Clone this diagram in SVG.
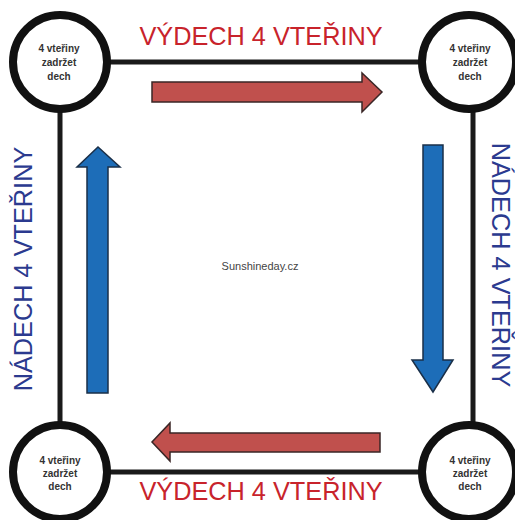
<svg xmlns="http://www.w3.org/2000/svg" width="515" height="520" viewBox="0 0 515 520">
<style>
.edge{stroke:#1a1a1a;stroke-width:5;fill:none}
.ring{fill:#fff;stroke:#111;stroke-width:8}
.ct{font-family:"Liberation Sans",Arial,sans-serif;font-size:10px;font-weight:bold;fill:#333;text-anchor:middle}
.red{font-family:"Liberation Sans",Arial,sans-serif;font-size:25.3px;fill:#c8232b;text-anchor:middle}
.blue{font-family:"Liberation Sans",Arial,sans-serif;font-size:25.3px;fill:#2b3a8f;text-anchor:middle}
.ra{fill:#c0504d;stroke:#3a2626;stroke-width:1.5;stroke-linejoin:miter}
.ba{fill:#1d6db8;stroke:#1a2f48;stroke-width:1.5;stroke-linejoin:miter}
.wm{font-family:"Liberation Sans",Arial,sans-serif;font-size:11px;fill:#444;text-anchor:middle}
</style>
<rect width="515" height="520" fill="#fff"/>
<g id="connectors">
<line class="edge" x1="60" y1="62" x2="473" y2="62"/>
<line class="edge" x1="60" y1="472" x2="473" y2="472"/>
<line class="edge" x1="60" y1="62" x2="60" y2="472"/>
<line class="edge" x1="473" y1="62" x2="473" y2="472"/>
</g>
<g id="arrows">
<polygon class="ra" points="152,82 362,82 362,73 382,92 362,112 362,102 152,102"/>
<polygon class="ra" points="380,433 170,433 170,423 152,442 170,461 170,452 380,452"/>
<polygon class="ba" points="87,393 87,167 77,167 98,147 120,167 108,167 108,393"/>
<polygon class="ba" points="423,145 443,145 443,360 453,360 433,392 412,360 423,360"/>
</g>
<g id="labels">
<text class="red" x="261" y="45">VÝDECH 4 VTEŘINY</text>
<text class="red" x="261" y="500">VÝDECH 4 VTEŘINY</text>
<text class="blue" transform="translate(32,269) rotate(-90)">NÁDECH 4 VTEŘINY</text>
<text class="blue" transform="translate(492,265) rotate(90)">NÁDECH 4 VTEŘINY</text>
<text class="wm" x="260" y="270">Sunshineday.cz</text>
</g>
<g id="node-tl">
<circle class="ring" cx="60" cy="62" r="47"/>
<text class="ct" x="59" y="52">4 vteřiny</text>
<text class="ct" x="59" y="66">zadržet</text>
<text class="ct" x="59" y="80">dech</text>
</g>
<g id="node-tr">
<circle class="ring" cx="469" cy="62" r="47"/>
<text class="ct" x="470" y="52">4 vteřiny</text>
<text class="ct" x="470" y="66">zadržet</text>
<text class="ct" x="470" y="80">dech</text>
</g>
<g id="node-bl">
<circle class="ring" cx="60" cy="472" r="47"/>
<text class="ct" x="60" y="464">4 vteřiny</text>
<text class="ct" x="60" y="477">zadržet</text>
<text class="ct" x="60" y="490">dech</text>
</g>
<g id="node-br">
<circle class="ring" cx="469" cy="472" r="47"/>
<text class="ct" x="470" y="464">4 vteřiny</text>
<text class="ct" x="470" y="477">zadržet</text>
<text class="ct" x="470" y="490">dech</text>
</g>
</svg>
